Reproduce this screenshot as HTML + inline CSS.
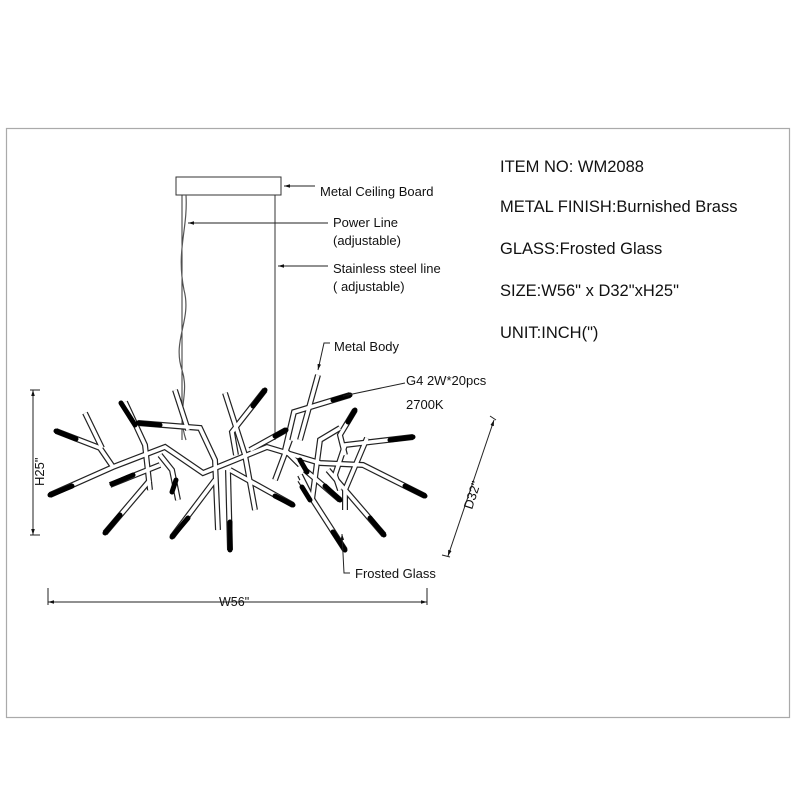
<!DOCTYPE html>
<html><head><meta charset="utf-8"><style>
html,body{margin:0;padding:0;background:#fff;}
svg{display:block;}
text{font-family:"Liberation Sans",sans-serif;fill:#111;}
</style></head><body>
<svg width="800" height="800" viewBox="0 0 800 800" xmlns="http://www.w3.org/2000/svg">
<defs>
<marker id="ar" viewBox="0 0 10 10" refX="10" refY="5" markerWidth="6" markerHeight="6" orient="auto-start-reverse"><path d="M0,2 L10,5 L0,8 z" fill="#111"/></marker>
<g id="tubes" fill="none" stroke-linejoin="miter">
<polyline points="50,495 113,467 165,447 203,473 267,447 320,463 363,465 425,496"/>
<polyline points="56,431 100,448 113,467"/>
<polyline points="85,413 102,448"/>
<polyline points="125,402 145,445 150,490"/>
<polyline points="138,423 200,428 215,460 218,530"/>
<polyline points="175,390 188,430"/>
<polyline points="225,393 245,455 255,510"/>
<polyline points="265,390 232,432 236,455"/>
<polyline points="105,533 150,480"/>
<polyline points="110,485 160,465"/>
<polyline points="172,537 215,480"/>
<polyline points="230,550 228,470"/>
<polyline points="350,395 294,412 285,450 300,465"/>
<polyline points="318,375 300,440"/>
<polyline points="340,428 320,440 312,500"/>
<polyline points="355,410 340,435 345,455"/>
<polyline points="413,437 345,445 335,475 340,490"/>
<polyline points="384,535 328,470"/>
<polyline points="345,550 300,480"/>
<polyline points="305,470 340,500"/>
<polyline points="290,440 275,480"/>
<polyline points="300,475 310,495"/>
<polyline points="230,470 293,505"/>
<polyline points="367,438 345,490 345,510"/>
<polyline points="160,455 172,470 178,500"/>
<polyline points="286,430 250,450"/>
</g>
</defs>
<rect x="6.5" y="128.5" width="783" height="589" fill="none" stroke="#aaa" stroke-width="1.2"/>

<!-- ceiling board & lines -->
<rect x="176" y="177" width="105" height="18" fill="#fff" stroke="#333"/>
<line x1="275" y1="195" x2="275" y2="440" stroke="#333" stroke-width="1"/>
<line x1="182" y1="195" x2="182" y2="440" stroke="#333" stroke-width="1"/>
<path d="M186,195 C188,230 176,250 184,290 C192,320 172,340 182,370 C190,395 176,410 186,440" fill="none" stroke="#555" stroke-width="1.2"/>

<use href="#tubes" stroke="#222" stroke-width="6"/>
<use href="#tubes" stroke="#fff" stroke-width="3.6"/>

<!-- black tips -->
<g stroke="#000" stroke-width="5" stroke-linecap="round">
<line x1="50" y1="495" x2="72" y2="486"/>
<line x1="56" y1="431" x2="76" y2="439"/>
<line x1="121" y1="403" x2="135" y2="425"/>
<line x1="138" y1="423" x2="160" y2="425"/>
<line x1="265" y1="390" x2="253" y2="406"/>
<line x1="105" y1="533" x2="120" y2="515"/>
<line x1="112" y1="484" x2="133" y2="475"/>
<line x1="172" y1="537" x2="188" y2="518"/>
<line x1="230" y1="550" x2="230" y2="522"/>
<line x1="350" y1="395" x2="333" y2="400"/>
<line x1="413" y1="437" x2="390" y2="440"/>
<line x1="384" y1="535" x2="370" y2="518"/>
<line x1="345" y1="550" x2="333" y2="532"/>
<line x1="340" y1="500" x2="325" y2="486"/>
<line x1="293" y1="505" x2="275" y2="496"/>
<line x1="172" y1="492" x2="176" y2="480"/>
<line x1="425" y1="496" x2="405" y2="486"/>
<line x1="355" y1="410" x2="348" y2="422"/>
<line x1="302" y1="487" x2="310" y2="500"/>
<line x1="286" y1="430" x2="275" y2="436"/>
<line x1="307" y1="472" x2="300" y2="460"/>
</g>

<!-- leaders -->
<g stroke="#222" stroke-width="1" fill="none">
<line x1="315" y1="186" x2="284" y2="186" marker-end="url(#ar)"/>
<line x1="328" y1="223" x2="188" y2="223" marker-end="url(#ar)"/>
<line x1="328" y1="266" x2="278" y2="266" marker-end="url(#ar)"/>
<polyline points="330,343 324,343 318,370" marker-end="url(#ar)"/>
<line x1="405" y1="383" x2="343" y2="396" marker-end="url(#ar)"/>
<polyline points="350,573 344,573 342,534" marker-end="url(#ar)"/>
<!-- H dim -->
<line x1="33" y1="390" x2="33" y2="535" marker-start="url(#ar)" marker-end="url(#ar)"/>
<line x1="30" y1="390" x2="40" y2="390"/><line x1="30" y1="535" x2="40" y2="535"/>
<!-- W dim -->
<line x1="48" y1="602" x2="427" y2="602" marker-start="url(#ar)" marker-end="url(#ar)"/>
<line x1="48" y1="588" x2="48" y2="605"/><line x1="427" y1="588" x2="427" y2="605"/>
<!-- D dim -->
<line x1="494" y1="420" x2="448" y2="556" marker-start="url(#ar)" marker-end="url(#ar)"/>
<line x1="490" y1="416" x2="496" y2="420"/><line x1="442" y1="555" x2="450" y2="557"/>
</g>

<!-- labels -->
<g font-size="13">
<text x="320" y="196">Metal Ceiling Board</text>
<text x="333" y="227">Power Line</text>
<text x="333" y="245">(adjustable)</text>
<text x="333" y="273">Stainless steel line</text>
<text x="333" y="291">( adjustable)</text>
<text x="334" y="351">Metal Body</text>
<text x="406" y="385">G4 2W*20pcs</text>
<text x="406" y="409">2700K</text>
<text x="355" y="578">Frosted Glass</text>
<text x="219" y="606" font-size="12.5">W56"</text>
<text transform="translate(44,486) rotate(-90)" font-size="13">H25"</text>
<text transform="translate(472,510) rotate(-72)" font-size="13">D32"</text>
</g>
<g font-size="16.5">
<text x="500" y="172">ITEM NO: WM2088</text>
<text x="500" y="212">METAL FINISH:Burnished Brass</text>
<text x="500" y="254">GLASS:Frosted Glass</text>
<text x="500" y="296">SIZE:W56" x D32"xH25"</text>
<text x="500" y="338">UNIT:INCH(")</text>
</g>
</svg>
</body></html>
